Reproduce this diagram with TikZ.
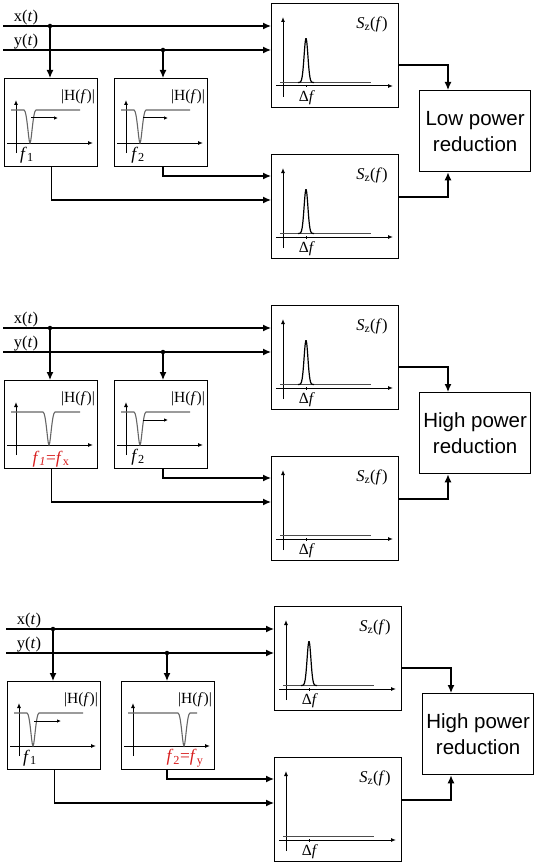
\documentclass[tikz,border=0pt]{standalone}
\usepackage{fontspec}
\setmainfont{Liberation Serif}
\newfontfamily\arialfont{Liberation Sans}
\usetikzlibrary{arrows.meta}
\definecolor{redlab}{RGB}{215,30,30}
\tikzset{
  sig/.style={line width=1.3pt,-{Latex[length=8pt,width=7pt]}},
  axisline/.style={line width=1pt,-{Latex[length=5pt,width=4pt]}},
  mover/.style={line width=1pt,-{Latex[length=4pt,width=3.5pt]}},
  resp/.style={line width=1.1pt,gray!80!black},
  baseln/.style={line width=1.1pt,black!70},
  peakln/.style={line width=1.2pt,black},
  hbox/.style={draw,line width=1.3pt,anchor=north west,minimum width=93pt,minimum height=88pt,inner sep=0pt},
  szbox/.style={draw,line width=1.3pt,anchor=north west,minimum width=127pt,minimum height=104pt,inner sep=0pt},
  rbox/.style={draw,line width=1.3pt,anchor=north west,minimum width=111pt,minimum height=81pt,inner sep=0pt,
     align=center,font=\arialfont\fontsize{20.5}{26}\selectfont},
  lab/.style={inner sep=0pt,font=\fontsize{15.5}{18}\selectfont},
  flab/.style={inner sep=0pt,font=\fontsize{17.5}{20}\selectfont},
  sigl/.style={inner sep=0pt,anchor=base,font=\fontsize{16.5}{19}\selectfont},
  dotn/.style={circle,fill,inner sep=0pt,minimum size=4.5pt}
}
% filter box: #1 name, #2 x, #3 y, #4 notch x, #5 gray end, #6 extra content
\newcommand\filtbox[6]{%
  \node[hbox] (#1) at (#2,#3) {};
  \begin{scope}[shift={(#2,#3)}]
    \draw[axisline] (12,75) -- (12,22);
    \draw[axisline] (3,65) -- (89,65);
    \draw[resp] (7,32) -- ({#4-6},32) .. controls ({#4-3},32) and ({#4-1.5},65) .. (#4,65)
       .. controls ({#4+1.5},65) and ({#4+3},32) .. ({#4+6},32) -- (#5,32);
    \node[lab] at (74,19) {|H(\textit{f})|};
    #6
  \end{scope}}
% spectrum box: #1 name, #2 x, #3 y, #4 peak (1/0)
\newcommand\specbox[4]{%
  \node[szbox] (#1) at (#2,#3) {};
  \begin{scope}[shift={(#2,#3)}]
    \draw[axisline] (12,94) -- (12,14);
    \draw[axisline] (5,83) -- (122,83);
    \draw[baseln] (9,79.5) -- (100,79.5);
    \ifnum#4=1
      \draw[peakln] plot[smooth,domain=27:43,samples=40] (\x,{79.5-44*exp(-((\x-35)/2.7)^2)});
    \fi
    \draw[line width=0.8pt] (35,82) -- (35,84.5);
    \node[lab] at (36,95) {Δ\textit{f}};
    \node[lab,font=\fontsize{16.5}{19}\selectfont] at (101,21) {\textit{S}\textsubscript{z}(\textit{f})};
  \end{scope}}
% panel: #1 prefix, #2 h2 x, #3 y-dot x, #4 filter1 extras, #5 filter2 extras, #6 notch1, #7 notch2, #8 peak2, #9 word
\newcommand\panel[9]{%
  \filtbox{#1-h1}{4}{78}{#6}{76}{#4}
  \filtbox{#1-h2}{#2}{78}{#7}{76}{#5}
  \specbox{#1-s1}{271}{3}{1}
  \specbox{#1-s2}{271}{154}{#8}
  \node[rbox] (#1-r) at (419,90) {#9 power\\reduction};
  \coordinate (#1-xs) at (3,26);
  \coordinate (#1-ys) at (3,50);
  \node[dotn] (#1-xd) at (50,26) {};
  \node[dotn] (#1-yd) at (#3,50) {};
  \node[sigl] (#1-xl) at (26,21.5) {x(\textit{t})};
  \node[sigl] (#1-yl) at (26,45.5) {y(\textit{t})};
  \draw[sig] (#1-xs) -- (#1-xs -| #1-s1.west);
  \draw[sig] (#1-ys) -- (#1-ys -| #1-s1.west);
  \draw[sig] (#1-xd.center) -- (#1-xd |- #1-h1.north);
  \draw[sig] (#1-yd.center) -- (#1-yd |- #1-h2.north);
  \draw[sig] (#1-h1.south) |- ([yshift=-46pt]#1-s2.north west);
  \draw[sig] (#1-yd |- #1-h2.south) |- ([yshift=-22pt]#1-s2.north west);
  \draw[sig] ([yshift=-62pt]#1-s1.north east) -| ([xshift=29pt]#1-r.north west);
  \draw[sig] ([yshift=-43pt]#1-s2.north east) -| ([xshift=29pt]#1-r.south west);
}
\begin{document}
\begin{tikzpicture}[x=1pt,y=-1pt]
\useasboundingbox (0,0) rectangle (536,864);
\begin{scope}
  \panel{a}{114}{163}
    {\draw[mover] (27,40) -- (54,40); \node[flab] at (23,77) {\textit{f}\textsubscript{1}};}
    {\draw[mover] (29,40) -- (54,40); \node[flab] at (24,77) {\textit{f}\textsubscript{2}};}
    {26}{26}{1}{Low}
\end{scope}
\begin{scope}[shift={(0,302)}]
  \panel{b}{114}{163}
    {\node[flab,text=redlab] at (47,79) {\textit{f}\textsubscript{\textit{1}}=\textit{f}\textsubscript{x}};}
    {\draw[mover] (29,40) -- (54,40); \node[flab] at (24,77) {\textit{f}\textsubscript{2}};}
    {45}{26}{0}{High}
\end{scope}
\begin{scope}[shift={(3,603)}]
  \panel{c}{118}{164}
    {\draw[mover] (27,40) -- (54,40); \node[flab] at (23,77) {\textit{f}\textsubscript{1}};}
    {\node[flab,text=redlab] at (64,77) {\textit{f}\textsubscript{2}=\textit{f}\textsubscript{y}};}
    {26}{63}{0}{High}
\end{scope}
\end{tikzpicture}
\end{document}
